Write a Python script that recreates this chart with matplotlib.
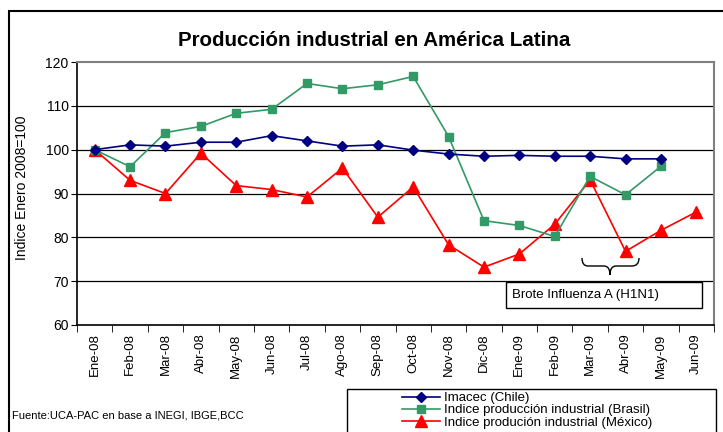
import matplotlib
matplotlib.use("Agg")
import matplotlib.pyplot as plt
from matplotlib.patches import Rectangle, PathPatch
from matplotlib.path import Path
import numpy as np

plt.rcParams['font.family'] = ['Liberation Sans', 'DejaVu Sans']

months = ["Ene-08", "Feb-08", "Mar-08", "Abr-08", "May-08", "Jun-08", "Jul-08", "Ago-08",
          "Sep-08", "Oct-08", "Nov-08", "Dic-08", "Ene-09", "Feb-09", "Mar-09", "Abr-09",
          "May-09", "Jun-09"]
chile = [100.0, 101.1, 100.8, 101.7, 101.7, 103.2, 102.0, 100.8, 101.1, 99.9, 99.0, 98.5,
         98.7, 98.5, 98.5, 97.9, 97.9]
brasil = [100.0, 96.1, 103.9, 105.3, 108.3, 109.2, 115.1, 113.9, 114.8, 116.7, 103.0, 83.8,
          82.7, 80.2, 93.9, 89.7, 96.2]
mexico = [100.0, 93.0, 90.0, 99.2, 91.8, 90.9, 89.2, 95.8, 84.6, 91.5, 78.3, 73.2, 76.2,
          83.0, 93.1, 76.8, 81.6, 85.8]
yticks = [60, 70, 80, 90, 100, 110, 120]

W, H = 723, 432
fig = plt.figure(figsize=(W / 100, H / 100), dpi=100)

def fx(px):
    return px / W

def fy(py):
    return (H - py) / H

# outer frame
fig.patches.append(Rectangle((fx(9), fy(460)), fx(800), fy(11) - fy(460), transform=fig.transFigure,
                             fill=False, edgecolor='black', linewidth=1.5))

ax = fig.add_axes([fx(77), fy(325), fx(714) - fx(77), fy(62) - fy(325)])
x = np.arange(len(months))

ax.plot(x[:len(chile)], chile, color='#000080', marker='D', markersize=5.5, linewidth=1.2,
        label='Imacec (Chile)', zorder=5)
ax.plot(x[:len(brasil)], brasil, color='#339966', marker='s', markersize=6, linewidth=1.2,
        label='Indice producción industrial (Brasil)', zorder=4)
ax.plot(x[:len(mexico)], mexico, color='#FF0000', marker='^', markersize=8, linewidth=1.2,
        label='Indice produción industrial (México)', zorder=3)

ax.set_xlim(-0.5, len(months) - 0.5)
ax.set_ylim(60, 120)
ax.set_yticks(yticks)
ax.set_yticklabels([str(v) for v in yticks], fontsize=10)
ax.set_xticks(x)
ax.set_xticklabels(months, rotation=90, fontsize=9.5)
ax.set_xticks(np.arange(-0.5, len(months), 1), minor=True)
ax.tick_params(axis='x', which='major', length=0, pad=6)
ax.tick_params(axis='x', which='minor', length=5, direction='out', color='black')
ax.tick_params(axis='y', length=4, direction='out', pad=2)
for v in yticks[1:-1]:
    ax.axhline(v, color='black', linewidth=0.9, zorder=1)
ax.spines['top'].set_color('#808080')
ax.spines['right'].set_color('#808080')
ax.spines['top'].set_linewidth(1.5)
ax.spines['right'].set_linewidth(1.5)
ax.spines['left'].set_linewidth(1.2)
ax.spines['bottom'].set_linewidth(1.2)
ax.set_ylabel('Indice Enero 2008=100', fontsize=10)
ax.yaxis.set_label_coords((29 - 77) / (714 - 77), 0.52)

fig.text(fx(374), fy(40), 'Producción industrial en América Latina', ha='center', va='center',
         fontsize=14.8, fontweight='bold')

# annotation box
fig.patches.append(Rectangle((fx(506), fy(308)), fx(702) - fx(506), fy(282) - fy(308),
                             transform=fig.transFigure, fill=True, facecolor='white',
                             edgecolor='black', linewidth=1.0, zorder=10))
fig.text(fx(512), fy(295), 'Brote Influenza A (H1N1)', ha='left', va='center', fontsize=9.5,
         zorder=11)

# brace
bx = [582, 582, 588, 604, 610, 610, 610, 616, 632, 639, 639]
by = [258, 266, 266, 266, 266, 275, 266, 266, 266, 266, 258]
verts = [(fx(a), fy(b)) for a, b in zip(bx, by)]
codes = [Path.MOVETO, Path.CURVE3, Path.CURVE3, Path.LINETO, Path.CURVE3, Path.CURVE3,
         Path.CURVE3, Path.CURVE3, Path.LINETO, Path.CURVE3, Path.CURVE3]
fig.patches.append(PathPatch(Path(verts, codes), transform=fig.transFigure, fill=False,
                             edgecolor='black', linewidth=1.0))

# source
fig.text(fx(12), fy(416), 'Fuente:UCA-PAC en base a INEGI, IBGE,BCC', ha='left', va='center',
         fontsize=8)

# legend
fig.patches.append(Rectangle((fx(347), fy(460)), fx(716) - fx(347), fy(389) - fy(460),
                             transform=fig.transFigure, fill=False, edgecolor='black',
                             linewidth=1.0))
handles, labels = ax.get_legend_handles_labels()
leg = fig.legend(handles, labels, loc='upper left', bbox_to_anchor=(fx(402), fy(392)),
                 frameon=False, handlelength=2.9, handletextpad=0.3,
                 labelspacing=0.0, borderpad=0.0, borderaxespad=0.0,
                 prop={'size': 9.5})

fig.savefig('out.png', dpi=100)
